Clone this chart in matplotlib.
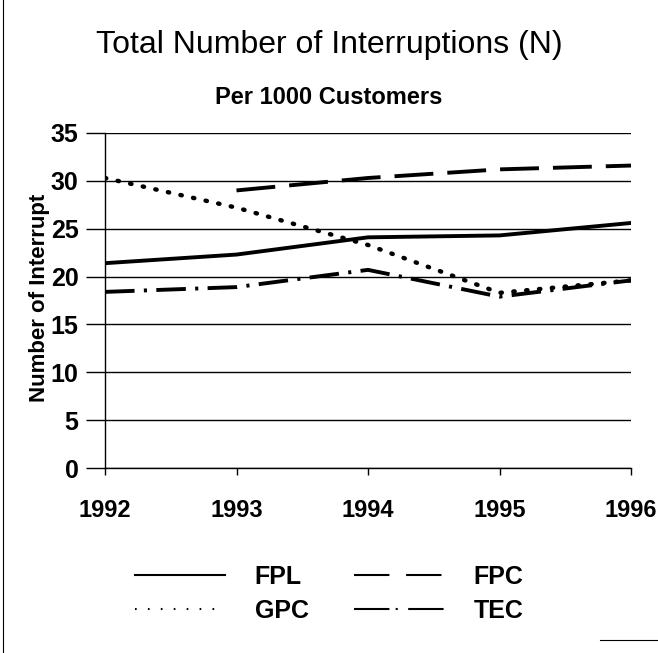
import matplotlib
matplotlib.use("Agg")
import matplotlib.pyplot as plt
from matplotlib.lines import Line2D

years = [1992, 1993, 1994, 1995, 1996]
fpl = [21.4, 22.3, 24.1, 24.3, 25.6]
fpc_years = [1993, 1994, 1995, 1996]
fpc = [29.0, 30.3, 31.2, 31.6]
gpc = [30.3, 27.2, 23.3, 18.3, 19.6]
tec = [18.4, 18.9, 20.7, 17.9, 19.6]
yticks = [0, 5, 10, 15, 20, 25, 30, 35]

plt.rcParams['font.family'] = ['Liberation Sans', 'DejaVu Sans']

fig = plt.figure(figsize=(6.58, 6.53), dpi=100)
W, H = 658, 653
ax = fig.add_axes([105 / W, 1 - 468 / H, (631 - 105) / W, (468 - 133) / H])

lw = 2.8
ax.plot(years, fpl, color='black', lw=lw, linestyle='-')
ax.plot(fpc_years, fpc, color='black', lw=lw, linestyle=(0, (10, 3.6)))
ax.plot(years, gpc, color='black', lw=3.2, linestyle=(0, (0.3, 2.6)), dash_capstyle='round')
ax.plot(years, tec, color='black', lw=lw, linestyle=(0, (7.6, 2.4, 0.8, 2.4)))

ax.set_xlim(1992, 1996)
ax.set_ylim(0, 35)
ax.set_yticks(yticks)
ax.set_xticks(years)
ax.set_xticklabels([str(y) for y in years])
ax.grid(axis='y', color='black', lw=1.0)
ax.set_axisbelow(True)
for s in ['top', 'right']:
    ax.spines[s].set_visible(False)
ax.spines['left'].set_linewidth(1.0)
ax.spines['bottom'].set_linewidth(1.0)
ax.tick_params(axis='y', length=14, width=1.0, direction='out', labelsize=18, pad=5)
ax.tick_params(axis='x', length=5, width=1.0, direction='out', labelsize=17, pad=17)
for lab in ax.get_xticklabels() + ax.get_yticklabels():
    lab.set_fontweight('bold')

fig.text(40 / W, 1 - 298 / H, 'Number of Interrupt', rotation=90, ha='center', va='center',
         fontsize=16, fontweight='bold')

fig.text(0.5, 1 - 45 / H, 'Total Number of Interruptions (N)', ha='center', va='center',
         fontsize=23)
fig.text(0.5, 1 - 97 / H, 'Per 1000 Customers', ha='center', va='center',
         fontsize=17, fontweight='bold')

h_fpl = Line2D([], [], color='black', lw=1.5, linestyle='-')
h_fpc = Line2D([], [], color='black', lw=1.5, linestyle=(0, (17, 8)))
h_gpc = Line2D([], [], color='black', lw=1.5, linestyle=(0, (0.8, 5.4)))
h_tec = Line2D([], [], color='black', lw=1.5, linestyle=(0, (17, 3, 1, 5)))
handles = [h_fpl, h_gpc, h_fpc, h_tec]
labels = ['FPL', 'GPC', 'FPC', 'TEC']
leg = fig.legend(handles, labels, ncol=2, loc='center', bbox_to_anchor=(0.5, 1 - 594 / H),
                 frameon=False, handlelength=3.6, handletextpad=1.2, columnspacing=1.8,
                 fontsize=18, labelspacing=0.4)
for t in leg.get_texts():
    t.set_fontweight('bold')

# outer border fragments
fig.add_artist(Line2D([0.004, 0.004], [0.0, 1.0], color='black', lw=0.8,
                      transform=fig.transFigure))
fig.add_artist(Line2D([600 / W, 1.0], [1 - 640 / H, 1 - 640 / H], color='black', lw=0.8,
                      transform=fig.transFigure))

fig.savefig('out.png', dpi=100)
